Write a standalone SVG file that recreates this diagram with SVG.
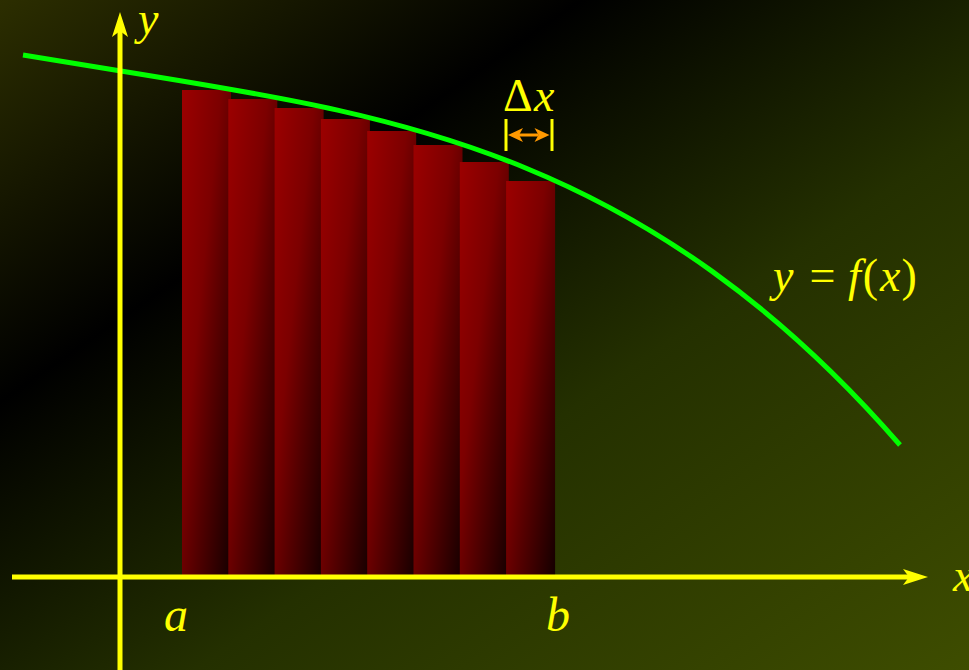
<svg xmlns="http://www.w3.org/2000/svg" width="969" height="670" viewBox="0 0 969 670">
  <defs>
    <linearGradient id="bg" x1="0" y1="0" x2="1" y2="1">
      <stop offset="0" stop-color="#2c2e00"/>
      <stop offset="0.3" stop-color="#000000"/>
      <stop offset="0.6" stop-color="#243000"/>
      <stop offset="1" stop-color="#3e4d00"/>
    </linearGradient>
    <linearGradient id="barGrad" x1="0" y1="0" x2="1" y2="1">
      <stop offset="0" stop-color="#9c0000"/>
      <stop offset="0.4" stop-color="#7c0000"/>
      <stop offset="0.62" stop-color="#550000"/>
      <stop offset="1" stop-color="#140000"/>
    </linearGradient>
    <marker id="axisHead" markerUnits="userSpaceOnUse" viewBox="-7 -9 27 18" markerWidth="27" markerHeight="18" refX="0" refY="0" orient="auto">
      <path d="M19,0 L-6,-8 L0,0 L-6,8 Z" fill="#ffff00"/>
    </marker>
    <marker id="dxHeadR" markerUnits="userSpaceOnUse" viewBox="-5 -8 18 16" markerWidth="18" markerHeight="16" refX="0" refY="0" orient="0">
      <path d="M11,0 L-4,-7 L0,0 L-4,7 Z" fill="#ff9900"/>
    </marker>
    <marker id="dxHeadL" markerUnits="userSpaceOnUse" viewBox="-13 -8 18 16" markerWidth="18" markerHeight="16" refX="0" refY="0" orient="0">
      <path d="M-11,0 L4,-7 L0,0 L4,7 Z" fill="#ff9900"/>
    </marker>
  </defs>

  <rect x="0" y="0" width="969" height="670" fill="url(#bg)"/>

  <g id="bars" fill="url(#barGrad)">
    <rect x="182" y="90" width="49" height="487"/>
    <rect x="228.3" y="99" width="49" height="478"/>
    <rect x="274.6" y="108" width="49" height="469"/>
    <rect x="320.9" y="119" width="49" height="458"/>
    <rect x="367.2" y="131" width="49" height="446"/>
    <rect x="413.5" y="145" width="49" height="432"/>
    <rect x="459.8" y="162" width="49" height="415"/>
    <rect x="506.1" y="181" width="49" height="396"/>
  </g>

  <g id="connectors" fill="none">
    <path id="curve" d="M23,55 L150,75.7 C400,116.45 650,157.2 900,445" stroke="#00ff00" stroke-width="5"/>
    <g stroke="#ffff00" stroke-width="5">
      <path id="x-axis" d="M12,577 L909,577" marker-end="url(#axisHead)"/>
      <path id="y-axis" d="M120,670 L120,31" marker-end="url(#axisHead)"/>
    </g>
    <g id="delta-x">
      <g stroke="#ffff00" stroke-width="3">
        <line x1="506" y1="119" x2="506" y2="151"/>
        <line x1="552" y1="119" x2="552" y2="151"/>
      </g>
      <path d="M519,135 L538.5,135" stroke="#ff9900" stroke-width="3" marker-start="url(#dxHeadL)" marker-end="url(#dxHeadR)"/>
    </g>
  </g>

  <g id="labels" fill="#ffff00">
    <text id="label-y" style="font-family:'Liberation Serif','Times New Roman',serif;font-style:italic;font-size:46px" x="138" y="34">y</text>
    <text id="label-x" style="font-family:'Liberation Serif','Times New Roman',serif;font-style:italic;font-size:46px" x="953" y="590.5">x</text>
    <text id="label-a" style="font-family:'Liberation Serif','Times New Roman',serif;font-style:italic;font-size:48px" x="164" y="630.5">a</text>
    <text id="label-b" style="font-family:'Liberation Serif','Times New Roman',serif;font-style:italic;font-size:48px" x="546" y="630.5">b</text>
    <text id="label-dx" style="font-family:'Liberation Serif','Times New Roman',serif;font-size:46px" x="503" y="111">&#916;<tspan style="font-style:italic" x="534">x</tspan></text>
    <text id="label-f" style="font-family:'Liberation Serif','Times New Roman',serif;font-size:46px" y="291"><tspan style="font-style:italic" x="773">y</tspan><tspan x="809.5">=</tspan><tspan style="font-style:italic" x="848">f</tspan><tspan x="862.8">(</tspan><tspan style="font-style:italic" x="880">x</tspan><tspan x="901.5">)</tspan></text>
  </g>
</svg>
